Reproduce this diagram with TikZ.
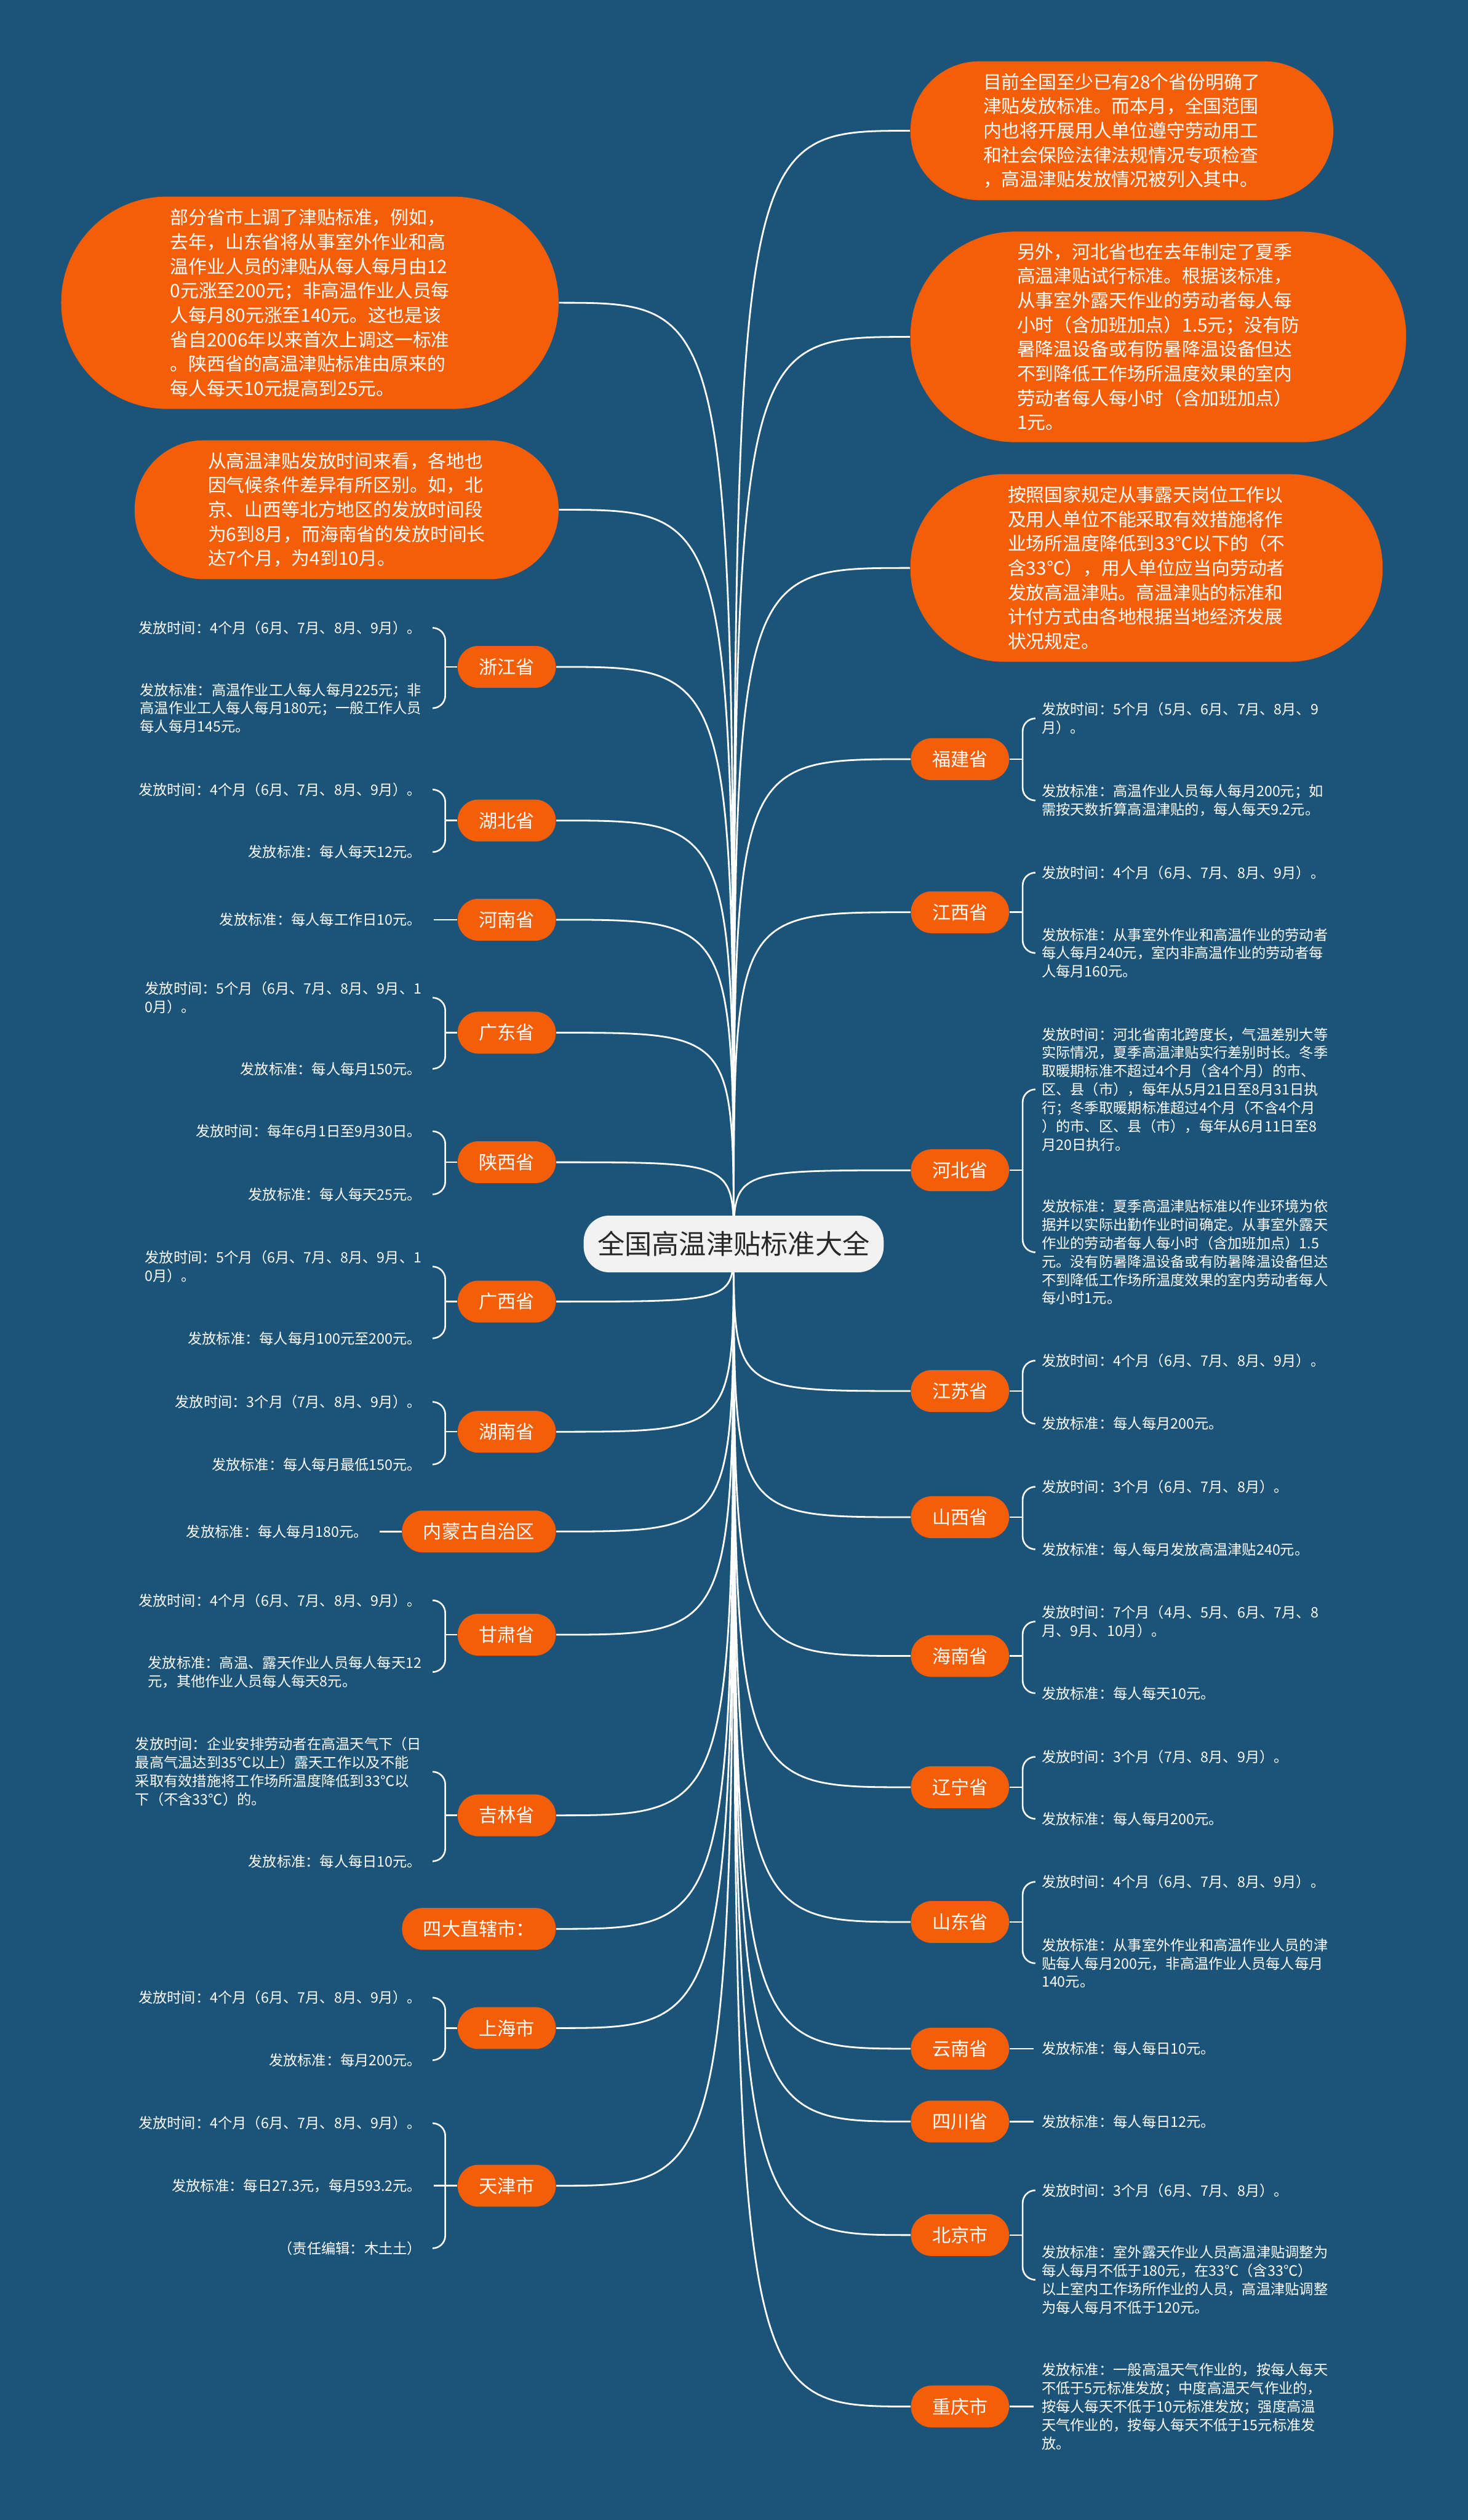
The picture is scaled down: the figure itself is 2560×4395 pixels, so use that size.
\documentclass[tikz,border=0pt]{standalone}
\usepackage{fontspec}
\setmainfont{Noto Sans CJK SC}
\definecolor{bgblue}{RGB}{27,84,120}
\definecolor{orng}{RGB}{245,94,8}
\definecolor{titlefill}{RGB}{242,242,242}
\definecolor{titletext}{RGB}{40,40,40}
\pgfdeclarelayer{bg}
\pgfsetlayers{bg,main}
\tikzset{
  bubble/.style={rectangle, fill=orng, text=white, font=\fontsize{9.1}{12.1}\selectfont, align=left, inner sep=0pt},
  prov/.style={rectangle, rounded corners=0.36cm, fill=orng, text=white, font=\fontsize{9.2}{11}\selectfont, minimum height=0.73cm, inner xsep=0.37cm, inner ysep=0pt},
  provL/.style={prov, anchor=east},
  provR/.style={prov, anchor=west},
  leafL/.style={anchor=east, text=white, font=\fontsize{7.1}{9.1}\selectfont, align=left, inner xsep=0.2cm, inner ysep=0pt},
  leafR/.style={anchor=west, text=white, font=\fontsize{7.1}{9.1}\selectfont, align=left, inner xsep=0.13cm, inner ysep=0pt},
  trunk/.style={draw=white, line width=0.03cm},
  twigs/.style={draw=white, line width=0.028cm},
  twig/.style={draw=white, line width=0.028cm, rounded corners=0.22cm},
}
\newcommand\stubL[1]{\draw[twigs] (#1.west) -- ++(-21,0) coordinate (#1-j);}
\newcommand\stubR[1]{\draw[twigs] (#1.east) -- ++(23,0) coordinate (#1-j);}
\newcommand\brL[2]{\draw[twig] (#1-j) |- (#2.east);}
\newcommand\brR[2]{\draw[twig] (#1-j) |- (#2.west);}
\begin{document}
\begin{tikzpicture}[x=0.01cm,y=-0.01cm]
% title
\node[rectangle, rounded corners=0.45cm, fill=titlefill, text=titletext, font=\fontsize{13.5}{16}\selectfont, minimum width=5.23cm, minimum height=0.99cm, inner sep=0pt] (title) at (1279.5,2169.5) {全国高温津贴标准大全};

% bubbles
\node[bubble, minimum width=8.67cm, minimum height=3.70cm, rounded corners=1.84cm] (L1) at (540.5,528) {部分省市上调了津贴标准，例如，\\去年，山东省将从事室外作业和高\\温作业人员的津贴从每人每月由12\\0元涨至200元；非高温作业人员每\\人每月80元涨至140元。这也是该\\省自2006年以来首次上调这一标准\\。陕西省的高温津贴标准由原来的\\每人每天10元提高到25元。};
\node[bubble, minimum width=7.39cm, minimum height=2.42cm, rounded corners=1.20cm] (L2) at (604.5,889) {从高温津贴发放时间来看，各地也\\因气候条件差异有所区别。如，北\\京、山西等北方地区的发放时间段\\为6到8月，而海南省的发放时间长\\达7个月，为4到10月。};
\node[bubble, minimum width=7.37cm, minimum height=2.42cm, rounded corners=1.20cm] (R1) at (1956.5,228) {目前全国至少已有28个省份明确了\\津贴发放标准。而本月，全国范围\\内也将开展用人单位遵守劳动用工\\和社会保险法律法规情况专项检查\\，高温津贴发放情况被列入其中。};
\node[bubble, minimum width=8.64cm, minimum height=3.67cm, rounded corners=1.82cm] (R2) at (2020,587.5) {另外，河北省也在去年制定了夏季\\高温津贴试行标准。根据该标准，\\从事室外露天作业的劳动者每人每\\小时（含加班加点）1.5元；没有防\\暑降温设备或有防暑降温设备但达\\不到降低工作场所温度效果的室内\\劳动者每人每小时（含加班加点）\\1元。};
\node[bubble, minimum width=8.23cm, minimum height=3.27cm, rounded corners=1.62cm] (R3) at (1999.5,990.5) {按照国家规定从事露天岗位工作以\\及用人单位不能采取有效措施将作\\业场所温度降低到33℃以下的（不\\含33℃），用人单位应当向劳动者\\发放高温津贴。高温津贴的标准和\\计付方式由各地根据当地经济发展\\状况规定。};

% left provinces
\node[provL] (zj) at (970,1163) {浙江省};
\node[provL] (hb) at (970,1431) {湖北省};
\node[provL] (hn) at (970,1604) {河南省};
\node[provL] (gd) at (970,1801) {广东省};
\node[provL] (sx) at (970,2027) {陕西省};
\node[provL] (gx) at (970,2270) {广西省};
\node[provL] (hun) at (970,2497) {湖南省};
\node[provL] (nmg) at (970,2671) {内蒙古自治区};
\node[provL] (gs) at (970,2851) {甘肃省};
\node[provL] (jl) at (970,3166) {吉林省};
\node[provL] (zxs) at (970,3364) {四大直辖市：};
\node[provL] (sh) at (970,3537) {上海市};
\node[provL] (tj) at (970,3812) {天津市};

% right provinces
\node[provR] (fj) at (1588,1324) {福建省};
\node[provR] (jx) at (1588,1591) {江西省};
\node[provR] (heb) at (1588,2041) {河北省};
\node[provR] (js) at (1588,2426) {江苏省};
\node[provR] (shx) at (1588,2646) {山西省};
\node[provR] (hain) at (1588,2888) {海南省};
\node[provR] (ln) at (1588,3117) {辽宁省};
\node[provR] (sd) at (1588,3352) {山东省};
\node[provR] (yn) at (1588,3573) {云南省};
\node[provR] (sc) at (1588,3700) {四川省};
\node[provR] (bj) at (1588,3898) {北京市};
\node[provR] (cq) at (1588,4197) {重庆市};

% left leaves
\node[leafL] (zj1) at (756,1095) {发放时间：4个月（6月、7月、8月、9月）。};
\node[leafL] (zj2) at (756,1235) {发放标准：高温作业工人每人每月225元；非\\高温作业工人每人每月180元；一般工作人员\\每人每月145元。};
\node[leafL] (hb1) at (756,1377) {发放时间：4个月（6月、7月、8月、9月）。};
\node[leafL] (hb2) at (756,1486) {发放标准：每人每天12元。};
\node[leafL] (hn1) at (756,1604) {发放标准：每人每工作日10元。};
\node[leafL] (gd1) at (756,1740) {发放时间：5个月（6月、7月、8月、9月、1\\0月）。};
\node[leafL] (gd2) at (756,1864) {发放标准：每人每月150元。};
\node[leafL] (sx1) at (756,1973) {发放时间：每年6月1日至9月30日。};
\node[leafL] (sx2) at (756,2083) {发放标准：每人每天25元。};
\node[leafL] (gx1) at (756,2209) {发放时间：5个月（6月、7月、8月、9月、1\\0月）。};
\node[leafL] (gx2) at (756,2334) {发放标准：每人每月100元至200元。};
\node[leafL] (hun1) at (756,2445) {发放时间：3个月（7月、8月、9月）。};
\node[leafL] (hun2) at (756,2554) {发放标准：每人每月最低150元。};
\node[leafL] (nmg1) at (662,2671) {发放标准：每人每月180元。};
\node[leafL] (gs1) at (756,2791) {发放时间：4个月（6月、7月、8月、9月）。};
\node[leafL] (gs2) at (756,2916) {发放标准：高温、露天作业人员每人每天12\\元，其他作业人员每人每天8元。};
\node[leafL] (jl1) at (756,3090) {发放时间：企业安排劳动者在高温天气下（日\\最高气温达到35℃以上）露天工作以及不能\\采取有效措施将工作场所温度降低到33℃以\\下（不含33℃）的。};
\node[leafL] (jl2) at (756,3246) {发放标准：每人每日10元。};
\node[leafL] (sh1) at (756,3484) {发放时间：4个月（6月、7月、8月、9月）。};
\node[leafL] (sh2) at (756,3593) {发放标准：每月200元。};
\node[leafL] (tj1) at (756,3703) {发放时间：4个月（6月、7月、8月、9月）。};
\node[leafL] (tj2) at (756,3812) {发放标准：每日27.3元，每月593.2元。};
\node[leafL] (tj3) at (756,3921) {（责任编辑：木土土）};

% right leaves
\node[leafR] (fj1) at (1803,1253) {发放时间：5个月（5月、6月、7月、8月、9\\月）。};
\node[leafR] (fj2) at (1803,1396) {发放标准：高温作业人员每人每月200元；如\\需按天数折算高温津贴的，每人每天9.2元。};
\node[leafR] (jx1) at (1803,1522) {发放时间：4个月（6月、7月、8月、9月）。};
\node[leafR] (jx2) at (1803,1662) {发放标准：从事室外作业和高温作业的劳动者\\每人每月240元，室内非高温作业的劳动者每\\人每月160元。};
\node[leafR] (heb1) at (1803,1900) {发放时间：河北省南北跨度长，气温差别大等\\实际情况，夏季高温津贴实行差别时长。冬季\\取暖期标准不超过4个月（含4个月）的市、\\区、县（市），每年从5月21日至8月31日执\\行；冬季取暖期标准超过4个月（不含4个月\\）的市、区、县（市），每年从6月11日至8\\月20日执行。};
\node[leafR] (heb2) at (1803,2184) {发放标准：夏季高温津贴标准以作业环境为依\\据并以实际出勤作业时间确定。从事室外露天\\作业的劳动者每人每小时（含加班加点）1.5\\元。没有防暑降温设备或有防暑降温设备但达\\不到降低工作场所温度效果的室内劳动者每人\\每小时1元。};
\node[leafR] (js1) at (1803,2373) {发放时间：4个月（6月、7月、8月、9月）。};
\node[leafR] (js2) at (1803,2483) {发放标准：每人每月200元。};
\node[leafR] (shx1) at (1803,2593) {发放时间：3个月（6月、7月、8月）。};
\node[leafR] (shx2) at (1803,2702) {发放标准：每人每月发放高温津贴240元。};
\node[leafR] (hain1) at (1803,2828) {发放时间：7个月（4月、5月、6月、7月、8\\月、9月、10月）。};
\node[leafR] (hain2) at (1803,2953) {发放标准：每人每天10元。};
\node[leafR] (ln1) at (1803,3064) {发放时间：3个月（7月、8月、9月）。};
\node[leafR] (ln2) at (1803,3172) {发放标准：每人每月200元。};
\node[leafR] (sd1) at (1803,3282) {发放时间：4个月（6月、7月、8月、9月）。};
\node[leafR] (sd2) at (1803,3424) {发放标准：从事室外作业和高温作业人员的津\\贴每人每月200元，非高温作业人员每人每月\\140元。};
\node[leafR] (yn1) at (1803,3573) {发放标准：每人每日10元。};
\node[leafR] (sc1) at (1803,3700) {发放标准：每人每日12元。};
\node[leafR] (bj1) at (1803,3820) {发放时间：3个月（6月、7月、8月）。};
\node[leafR] (bj2) at (1803,3976) {发放标准：室外露天作业人员高温津贴调整为\\每人每月不低于180元，在33℃（含33℃）\\以上室内工作场所作业的人员，高温津贴调整\\为每人每月不低于120元。};
\node[leafR] (cq1) at (1803,4197) {发放标准：一般高温天气作业的，按每人每天\\不低于5元标准发放；中度高温天气作业的，\\按每人每天不低于10元标准发放；强度高温\\天气作业的，按每人每天不低于15元标准发\\放。};

% background and trunk connectors
\begin{pgfonlayer}{bg}
\fill[bgblue] (0,0) rectangle (2560,4395);
\foreach \n in {L1,L2,zj,hb,hn,gd,sx,gx,hun,nmg,gs,jl,zxs,sh,tj}
  \draw[trunk] (title.center) .. controls (title.center |- \n.east) .. (\n.east);
\foreach \n in {R1,R2,R3,fj,jx,heb,js,shx,hain,ln,sd,yn,sc,bj,cq}
  \draw[trunk] (title.center) .. controls (title.center |- \n.west) .. (\n.west);
\end{pgfonlayer}

% left brackets
\foreach \p in {zj,hb,gd,sx,gx,hun,gs,jl,sh,tj} {\stubL{\p}}
\brL{zj}{zj1} \brL{zj}{zj2}
\brL{hb}{hb1} \brL{hb}{hb2}
\draw[twigs] (hn.west) -- (hn1.east);
\brL{gd}{gd1} \brL{gd}{gd2}
\brL{sx}{sx1} \brL{sx}{sx2}
\brL{gx}{gx1} \brL{gx}{gx2}
\brL{hun}{hun1} \brL{hun}{hun2}
\draw[twigs] (nmg.west) -- (nmg1.east);
\brL{gs}{gs1} \brL{gs}{gs2}
\brL{jl}{jl1} \brL{jl}{jl2}
\brL{sh}{sh1} \brL{sh}{sh2}
\brL{tj}{tj1} \draw[twigs] (tj-j) -- (tj2.east); \brL{tj}{tj3}

% right brackets
\foreach \p in {fj,jx,heb,js,shx,hain,ln,sd,bj} {\stubR{\p}}
\brR{fj}{fj1} \brR{fj}{fj2}
\brR{jx}{jx1} \brR{jx}{jx2}
\brR{heb}{heb1} \brR{heb}{heb2}
\brR{js}{js1} \brR{js}{js2}
\brR{shx}{shx1} \brR{shx}{shx2}
\brR{hain}{hain1} \brR{hain}{hain2}
\brR{ln}{ln1} \brR{ln}{ln2}
\brR{sd}{sd1} \brR{sd}{sd2}
\draw[twigs] (yn.east) -- (yn1.west);
\draw[twigs] (sc.east) -- (sc1.west);
\brR{bj}{bj1} \brR{bj}{bj2}
\draw[twigs] (cq.east) -- (cq1.west);
\end{tikzpicture}
\end{document}
